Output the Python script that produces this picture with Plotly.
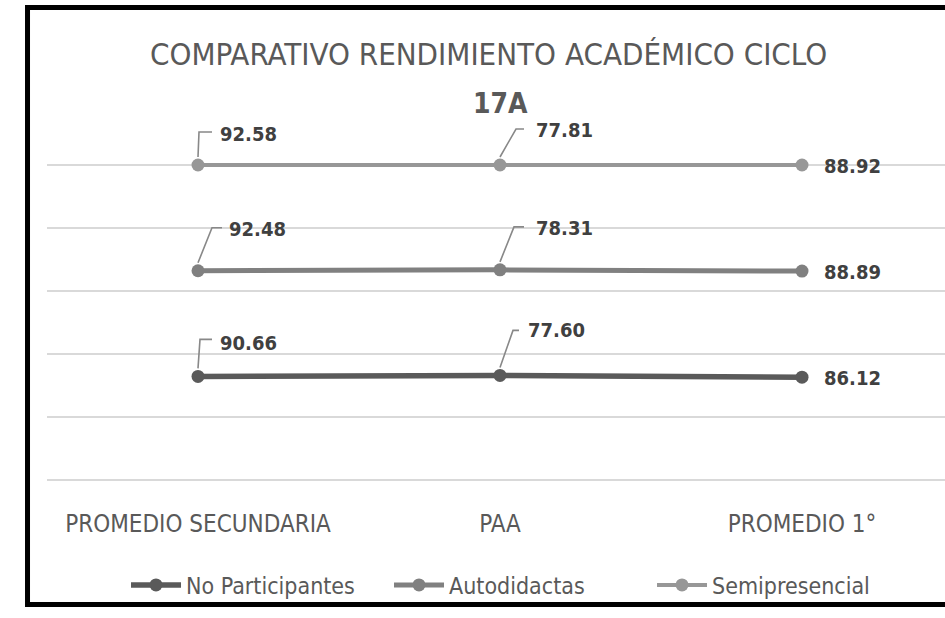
import numpy as np
import plotly.graph_objects as go

categories = ["PROMEDIO SECUNDARIA", "PAA", "PROMEDIO 1°"]
series_names = ["No Participantes", "Autodidactas", "Semipresencial"]
no_participantes = [90.66, 77.60, 86.12]
autodidactas = [92.48, 78.31, 88.89]
semipresencial = [92.58, 77.81, 88.92]

series_values = [no_participantes, autodidactas, semipresencial]
colors = ["#5a5a5a", "#808080", "#979797"]
widths = [5.5, 5, 4]

FONT = "DejaVu Sans Condensed, sans-serif"

fig = go.Figure()
x_idx = list(range(len(categories)))
for name, vals, col, w in zip(series_names, series_values, colors, widths):
    fig.add_trace(go.Scatter(
        x=x_idx, y=vals, name=name, mode="lines+markers",
        stackgroup="one", groupnorm="percent", fill="none",
        line=dict(color=col, width=w), marker=dict(color=col, size=13),
        cliponaxis=False, hoverinfo="skip",
    ))

# 100 % stacked positions, derived from the data, for labels and leaders
arr = np.array(series_values, dtype=float)
stack_pos = np.cumsum(arr, axis=0) / arr.sum(axis=0) * 100

# label styling (px): text dx, text up, leader corner dx, corner up, leader end dx
label_style = {
    (2, 0): (20, 31, 1, 33, 14), (2, 1): (34, 35, 16, 36, 24),
    (1, 0): (29, 42, 14, 43, 24), (1, 1): (34, 42, 14, 43, 24),
    (0, 0): (20, 33, 2, 37, 14), (0, 1): (26, 45, 13, 45, 19),
}
LABEL_FONT = dict(family=FONT, size=20, color="#404040", weight="bold")

shapes = []
annotations = []
for s in range(3):
    for c in range(3):
        yv = float(stack_pos[s, c])
        txt = f"{series_values[s][c]:.2f}"
        if c < 2:
            tdx, tup, cdx, cup, edx = label_style[(s, c)]
            annotations.append(dict(
                x=c, y=yv, xref="x", yref="y", text=txt, showarrow=False,
                xanchor="left", yanchor="middle", xshift=tdx, yshift=tup,
                font=LABEL_FONT,
            ))
            shapes.append(dict(
                type="path", xref="x", yref="y", xsizemode="pixel", ysizemode="pixel",
                xanchor=c, yanchor=yv,
                path=f"M 0,8 L {cdx},{cup} L {edx},{cup}",
                line=dict(color="#888888", width=1.6),
            ))
        else:
            annotations.append(dict(
                x=c, y=yv, xref="x", yref="y", text=txt, showarrow=False,
                xanchor="left", yanchor="middle", xshift=20, yshift=-1,
                font=LABEL_FONT,
            ))

# title (two lines as in the reference)
annotations.append(dict(
    x=0.4911, y=1.1204, xref="paper", yref="paper", showarrow=False,
    text="COMPARATIVO RENDIMIENTO ACADÉMICO CICLO", xanchor="center", yanchor="middle",
    font=dict(family=FONT, size=31, color="#595959"),
))
annotations.append(dict(
    x=0.5045, y=0.9921, xref="paper", yref="paper", showarrow=False,
    text="17A", xanchor="center", yanchor="middle",
    font=dict(family=FONT, size=28, color="#595959", weight="bold"),
))

# black frame around the chart
shapes.append(dict(
    type="rect", xref="paper", yref="paper",
    x0=-0.0217, x1=1.05, y0=-0.3207, y1=1.2421,
    line=dict(color="black", width=5), layer="above",
))

fig.update_layout(
    width=945, height=618, autosize=False,
    margin=dict(l=47, r=0, t=100, b=136, pad=0),
    paper_bgcolor="white", plot_bgcolor="white",
    showlegend=True,
    legend=dict(
        orientation="h", x=0.5273, xanchor="center", y=-0.2696, yanchor="middle",
        traceorder="normal", itemwidth=50, entrywidth=198,
        bgcolor="rgba(0,0,0,0)",
        font=dict(family=FONT, size=23, color="#595959"),
    ),
    xaxis=dict(
        range=[-0.5, 2.4735], tickvals=x_idx, ticktext=categories,
        showgrid=False, zeroline=False, showline=False,
        ticks="outside", ticklen=20, tickcolor="rgba(0,0,0,0)",
        tickfont=dict(family=FONT, size=24, color="#595959"),
    ),
    yaxis=dict(
        range=[-0.635, 120.63], tickvals=[0, 20, 40, 60, 80, 100], showticklabels=False,
        showgrid=True, gridcolor="#d9d9d9", gridwidth=2,
        zeroline=False, showline=False,
    ),
    shapes=shapes, annotations=annotations,
)

fig.write_html(
    "out.html",
    config={"displayModeBar": False},
    post_script="document.body.style.margin='0px';",
)
